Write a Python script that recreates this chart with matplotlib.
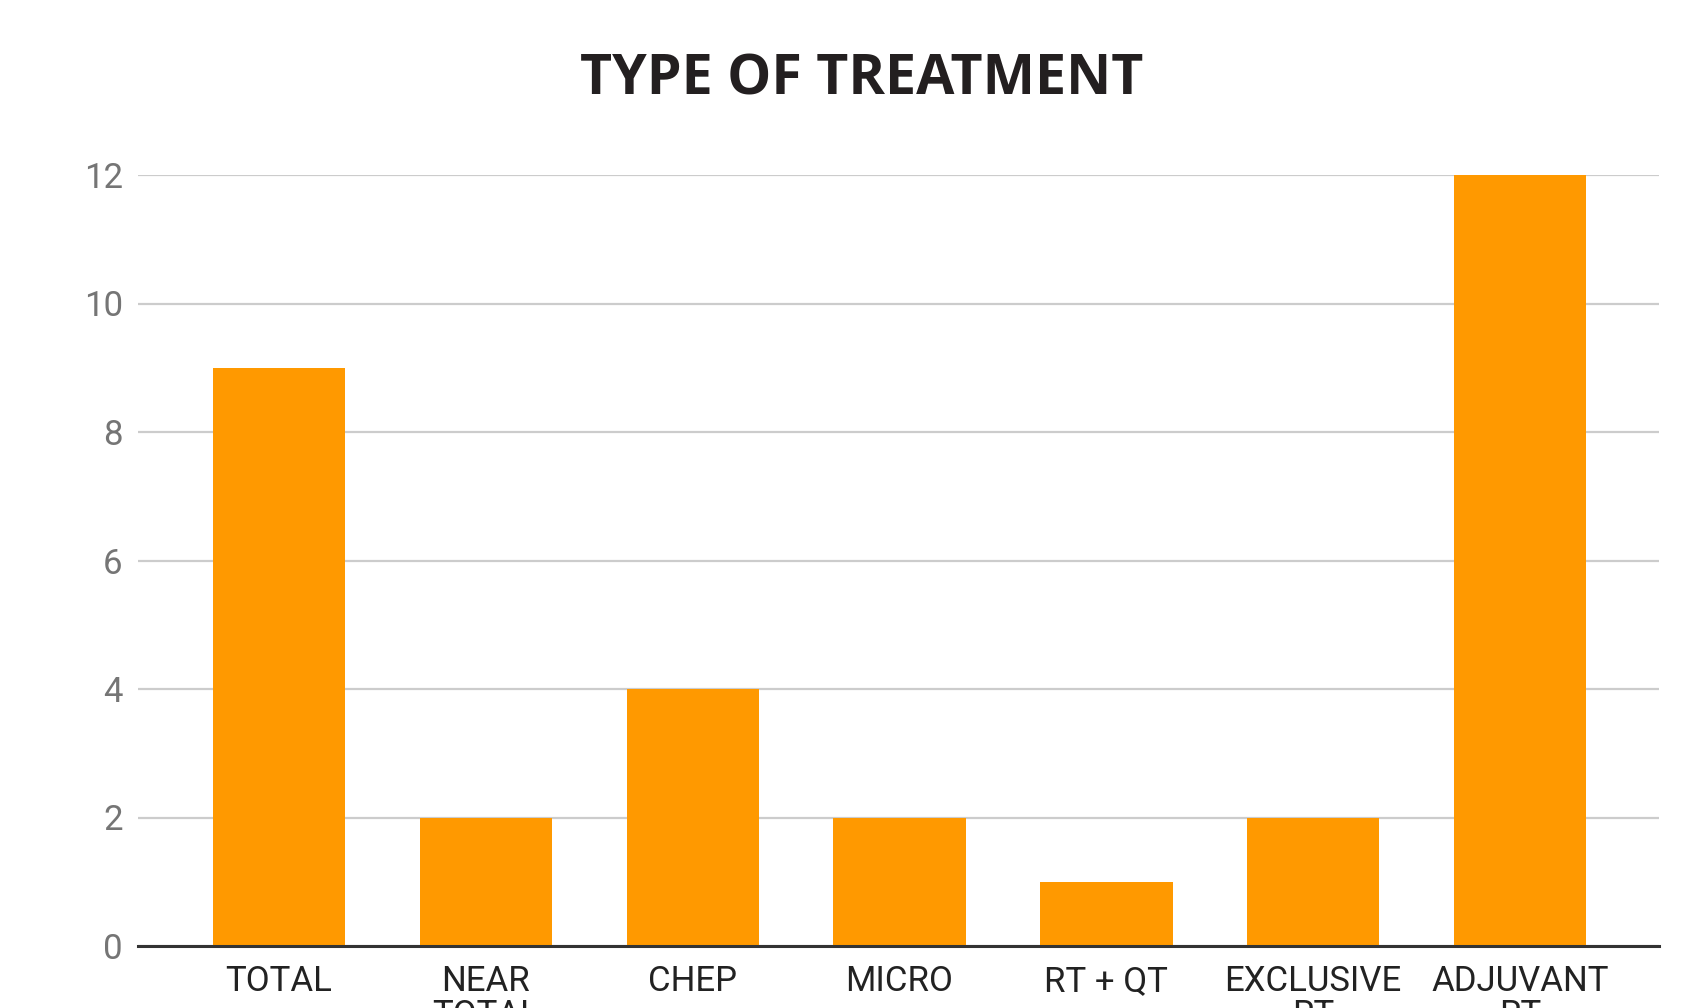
import matplotlib
matplotlib.use("Agg")
import matplotlib.pyplot as plt

categories = ["TOTAL", "NEAR\nTOTAL", "CHEP", "MICRO", "RT + QT", "EXCLUSIVE\nRT", "ADJUVANT\nRT"]
counts = [9, 2, 4, 2, 1, 2, 12]
y_ticks = [0, 2, 4, 6, 8, 10, 12]

W, H, DPI = 1702, 1008, 100
fig = plt.figure(figsize=(W / DPI, H / DPI), dpi=DPI)

left, right = 138 / W, 1659 / W
bottom, top = 1 - 946 / H, 1 - 175 / H
ax = fig.add_axes([left, bottom, right - left, top - bottom])

x = list(range(len(categories)))
ax.bar(x, counts, width=0.64, color="#ff9900", zorder=3)

ax.set_xlim(-0.682, 6.672)
ax.set_ylim(0, 12)
ax.set_yticks(y_ticks)
ax.set_yticklabels([str(v) for v in y_ticks], fontsize=25, color="#757575", family="Roboto")
ax.set_xticks(x)
ax.set_xticklabels(categories, fontsize=25, color="#222222", family="Roboto",
                   linespacing=1.04, va="top")

ax.tick_params(axis="y", length=0, pad=11)
ax.tick_params(axis="x", length=0, pad=14)
ax.grid(axis="y", color="#cccccc", linewidth=1.6, zorder=0)
for s in ["top", "right", "left"]:
    ax.spines[s].set_visible(False)
ax.spines["bottom"].set_color("#333333")
ax.spines["bottom"].set_linewidth(2.2)
ax.spines["bottom"].set_zorder(4)

fig.text(862 / W, 1 - 80 / H, "TYPE OF TREATMENT", ha="center", va="center",
         fontsize=40, fontweight="bold", color="#231f20", family="Open Sans")

fig.savefig("out.png", dpi=DPI)
